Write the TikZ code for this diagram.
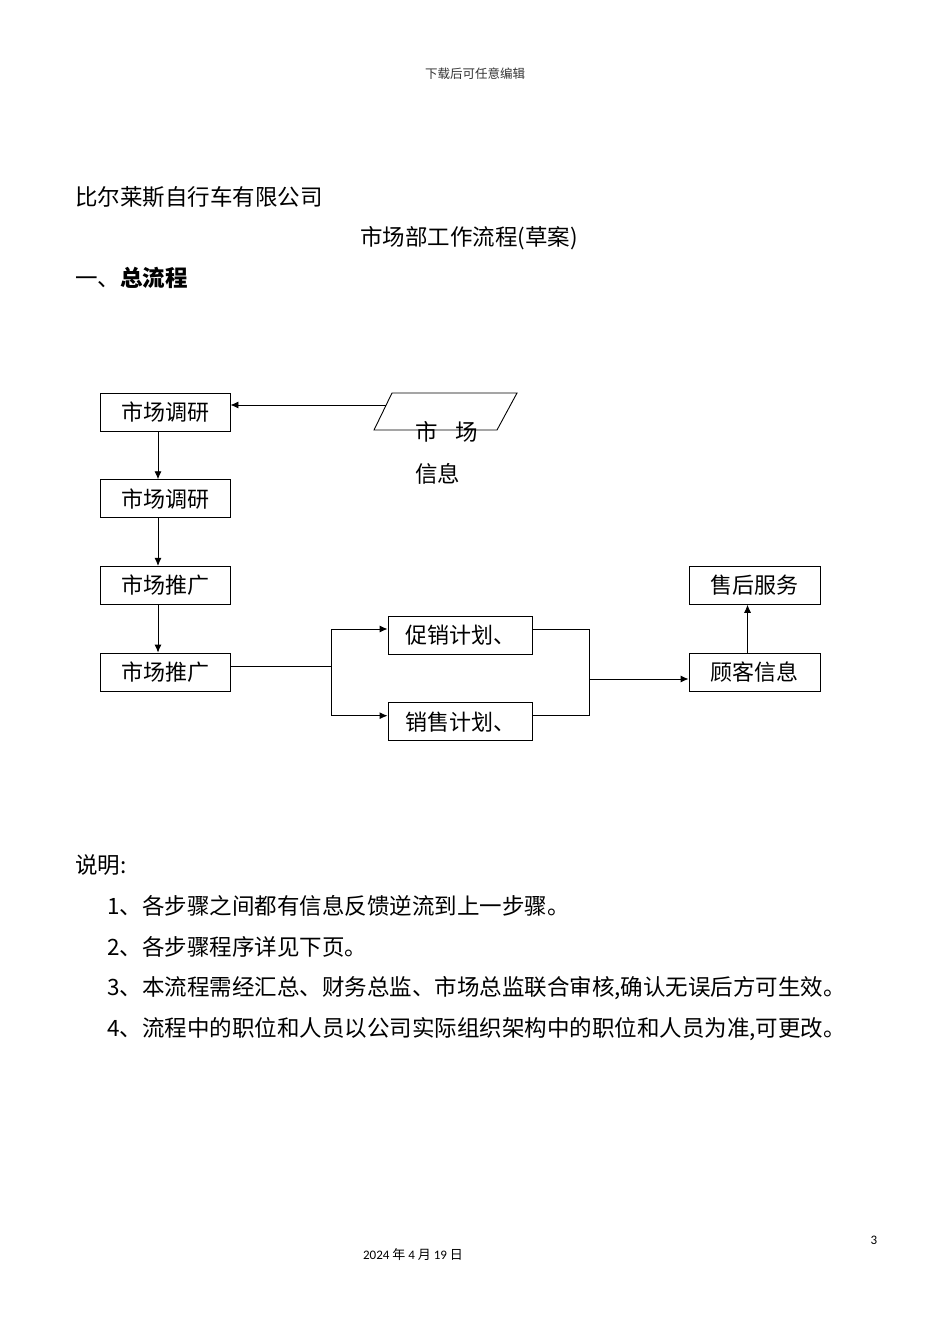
\documentclass[tikz,border=0pt]{standalone}
\usepackage{fontspec}
\setmainfont{Liberation Serif}
\newfontfamily\cjk{Noto Sans CJK SC}
\newfontfamily\latn{Carlito}
\usetikzlibrary{positioning, arrows.meta}

\begin{document}
\begin{tikzpicture}[x=1pt, y=-1pt, node distance=86.7pt, on grid, auto, >={Latex[length=8pt,width=7pt]},
    box/.style={draw, line width=0.9pt, minimum width=130pt, minimum height=38pt, inner sep=0pt, font=\cjk\fontsize{22}{26}\selectfont},
    txt/.style={anchor=west, inner sep=0pt, font=\cjk\fontsize{22.5}{27}\selectfont},
    small/.style={inner sep=0pt, font=\fontsize{13}{15}\selectfont}]
   \useasboundingbox (0,0) rectangle (950,1344);

   % page texts
   \node[small, black!80] (head) at (475,74) {\cjk\fontsize{12.5}{15}\selectfont 下载后可任意编辑};
   \node[txt] (firm)  at (75,197)  {比尔莱斯自行车有限公司};
   \node[txt] (title) at (360,238) {市场部工作流程(草案)};
   \node[txt] (sec)   at (75,278)  {一、\bfseries 总流程};

   % flow
   \node[box] (r1) at (165,412) {市场调研};
   \node[box] (r2) [below=of r1] {市场调研};
   \node[box] (p1) [below=of r2] {市场推广};
   \node[box] (p2) [below=of p1] {市场推广};
   \node[box, minimum width=144pt] (promo) at (460,635) {促销计划、};
   \node[box, minimum width=144pt] (sales) [below=of promo] {销售计划、};
   \node[box, minimum width=131pt] (cust) at (754.5,672) {顾客信息};
   \node[box, minimum width=131pt] (serv) [above=of cust] {售后服务};

   \draw[line width=0.9pt] (392,393) -- (517,393) -- (497,430) -- (374,430) -- cycle;
   \coordinate (mkt) at (386,405);
   \node[txt] (mkt1) at (415,432) {市\hspace{18pt}场};
   \node[txt] (mkt2) at (415,474) {信息};

   \coordinate (fork) at ([yshift=6pt]p2.east -| 331,0);
   \coordinate (join) at (589,679);

   \path[->, line width=0.9pt]
    (mkt) edge (mkt -| r1.east)
    ([xshift=-7pt]r1.south) edge ([xshift=-7pt]r2.north)
    ([xshift=-7pt]r2.south) edge ([xshift=-7pt]p1.north)
    ([xshift=-7pt]p1.south) edge ([xshift=-7pt]p2.north)
    (join) edge (join -| cust.west)
    ([xshift=-7pt]cust.north) edge ([xshift=-7pt]serv.south);
   \draw[line width=0.9pt] ([yshift=6pt]p2.east) -- (fork);
   \draw[->, line width=0.9pt] (fork) |- ([yshift=6pt]promo.west);
   \draw[->, line width=0.9pt] (fork) |- ([yshift=6pt]sales.west);
   \draw[line width=0.9pt] ([yshift=6pt]promo.east) -| (join);
   \draw[line width=0.9pt] ([yshift=6pt]sales.east) -| (join);

   % notes
   \node[txt] (note) at (75,865) {说明:};
   \node[txt] (n1) at (107,906)  {1、各步骤之间都有信息反馈逆流到上一步骤。};
   \node[txt] (n2) at (107,947)  {2、各步骤程序详见下页。};
   \node[txt] (n3) at (107,988)  {3、本流程需经汇总、财务总监、市场总监联合审核,确认无误后方可生效。};
   \node[txt] (n4) at (107,1029) {4、流程中的职位和人员以公司实际组织架构中的职位和人员为准,可更改。};

   \node[small] (date) at (413,1255) {\latn 2024 \cjk 年 \latn 4 \cjk 月 \latn 19 \cjk 日};
   \node[small] (page) at (874,1240) {\latn 3};
\end{tikzpicture}
\end{document}
